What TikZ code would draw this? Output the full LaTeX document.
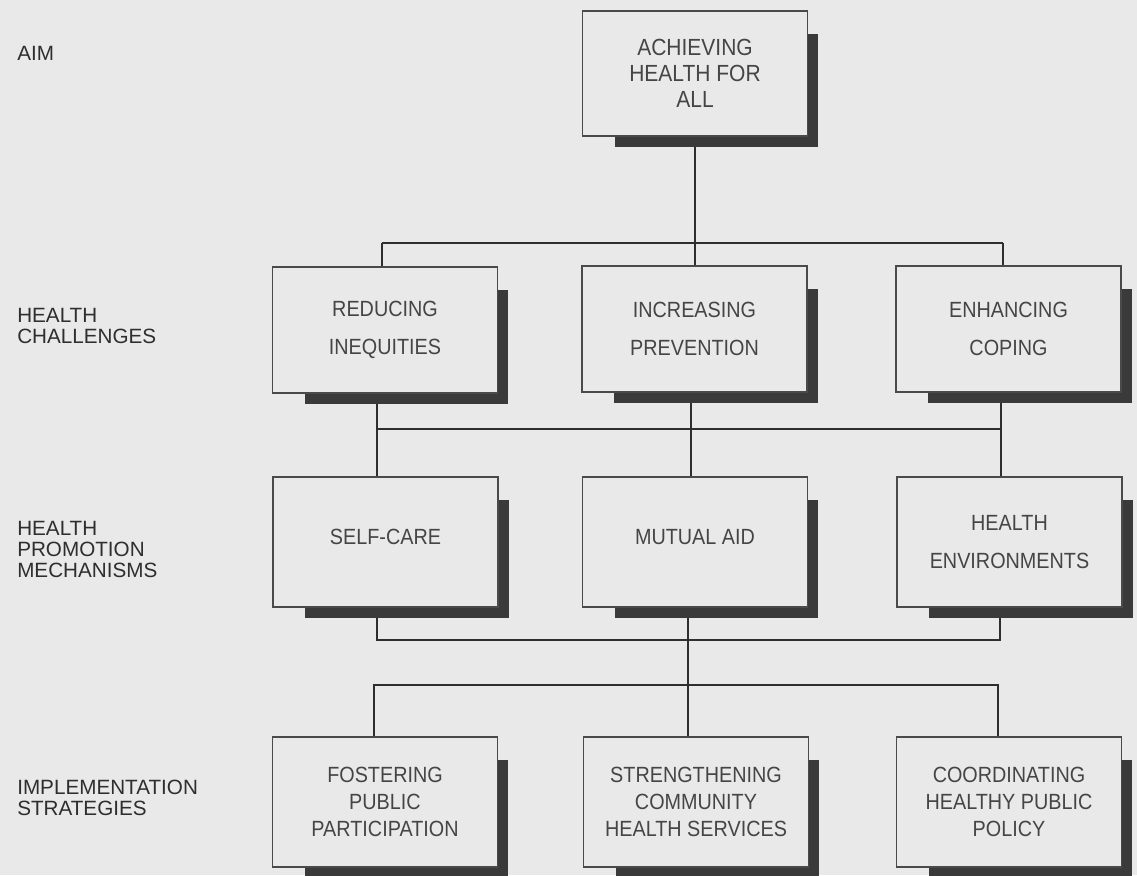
\documentclass[tikz,border=0pt]{standalone}
\usepackage{fontspec}
\setmainfont{Liberation Sans}
\newfontfamily\boxfont[FakeStretch=0.9]{Liberation Sans}
\newfontfamily\labfont{Liberation Sans}
\usetikzlibrary{calc}
\pgfdeclarelayer{paper}
\pgfdeclarelayer{lines}
\pgfdeclarelayer{shadows}
\pgfsetlayers{paper,lines,shadows,main}
\definecolor{paperc}{HTML}{E9E9E9}
\definecolor{inkc}{HTML}{2E2E2E}
\definecolor{framec}{HTML}{4A4A4A}
\definecolor{shadowc}{HTML}{3A3A3A}
\definecolor{textc}{HTML}{454545}
\tikzset{
  box/.style={draw=framec, line width=1.1pt, fill=paperc, inner sep=0pt,
    minimum width=168.75pt, align=center, text=textc},
  wide/.style={font={\boxfont\fontsize{16.5pt}{28.5pt}\selectfont}},
  tight/.style={font={\boxfont\fontsize{16.5pt}{20.25pt}\selectfont}},
  top/.style={font={\boxfont\fontsize{17.5pt}{19.5pt}\selectfont}},
  rowlabel/.style={anchor=base west, inner sep=0pt, align=left, text=inkc,
    font={\labfont\fontsize{15.5pt}{15.75pt}\selectfont}},
  conn/.style={draw=inkc, line width=1.5pt},
  drop/.style={fill=shadowc}
}
\begin{document}
\begin{tikzpicture}[x=0.75pt, y=-0.75pt]
\useasboundingbox (0,0) rectangle (1137,875);
\clip (0,0) rectangle (1137,875);
\begin{pgfonlayer}{paper}
  \fill[paperc] (0,0) rectangle (1137,875);
\end{pgfonlayer}

% row labels
\node[rowlabel] (lAim) at (17,60) {AIM};
\node[rowlabel] (lChal) at (17,343) {HEALTH\\CHALLENGES};
\node[rowlabel] (lMech) at (17,577) {HEALTH\\PROMOTION\\MECHANISMS};
\node[rowlabel] (lImpl) at (17,815) {IMPLEMENTATION\\STRATEGIES};

% aim
\node[box, top, minimum height=93.75pt] (A) at (695,73.5) {ACHIEVING\\HEALTH FOR\\ALL};
% health challenges
\node[box, wide, minimum height=94.5pt] (B1) at (385,330) {REDUCING\\INEQUITIES};
\node[box, wide, minimum height=94.5pt] (B2) at (694.5,329) {INCREASING\\PREVENTION};
\node[box, wide, minimum height=94.5pt] (B3) at (1008.5,329) {ENHANCING\\COPING};
% mechanisms
\node[box, wide, minimum height=97.5pt] (C1) at (385.5,542) {\raisebox{8pt}{SELF-CARE}};
\node[box, wide, minimum height=97.5pt] (C2) at (695,542) {\raisebox{8pt}{MUTUAL AID}};
\node[box, wide, minimum height=97.5pt] (C3) at (1009.5,542) {HEALTH\\ENVIRONMENTS};
% strategies
\node[box, tight, minimum height=97.5pt] (D1) at (385,802) {FOSTERING\\PUBLIC\\PARTICIPATION};
\node[box, tight, minimum height=97.5pt] (D2) at (696,802) {STRENGTHENING\\COMMUNITY\\HEALTH SERVICES};
\node[box, tight, minimum height=97.5pt] (D3) at (1009,802) {COORDINATING\\HEALTHY PUBLIC\\POLICY};

% drop shadows
\begin{pgfonlayer}{shadows}
\foreach \b in {A,B1,B2,B3,C1,C2,C3,D1,D2,D3}
  \fill[drop] ($(\b.south west)+(33,10)$) rectangle ($(\b.north east)+(10,24)$);
\end{pgfonlayer}

% connectors
\coordinate (bus1L) at (382,243);
\coordinate (bus1R) at (1003,243);
\coordinate (bus2L) at (377,429);
\coordinate (bus2M) at (691,429);
\coordinate (bus2R) at (1001,429);
\coordinate (bus3L) at (377,640);
\coordinate (bus3M) at (688,640);
\coordinate (bus3R) at (1000,640);
\coordinate (bus4L) at (374,685);
\coordinate (bus4R) at (998,685);
\begin{pgfonlayer}{lines}
  \draw[conn] (A.south) -- (A.south |- B2.north);
  \draw[conn] (bus1L) -- (bus1R);
  \draw[conn] (bus1L) -- (bus1L |- B1.north);
  \draw[conn] (bus1R) -- (bus1R |- B3.north);

  \draw[conn] (bus2L) -- (bus2R);
  \draw[conn] (bus2L |- B1.south) -- (bus2L |- C1.north);
  \draw[conn] (bus2M |- B2.south) -- (bus2M |- C2.north);
  \draw[conn] (bus2R |- B3.south) -- (bus2R |- C3.north);

  \draw[conn] (bus3L |- C1.south) -- (bus3L) -- (bus3R) -- (bus3R |- C3.south);
  \draw[conn] (bus3M |- C2.south) -- (bus3M |- D2.north);

  \draw[conn] (bus4L |- D1.north) -- (bus4L) -- (bus4R) -- (bus4R |- D3.north);
\end{pgfonlayer}
\end{tikzpicture}
\end{document}
